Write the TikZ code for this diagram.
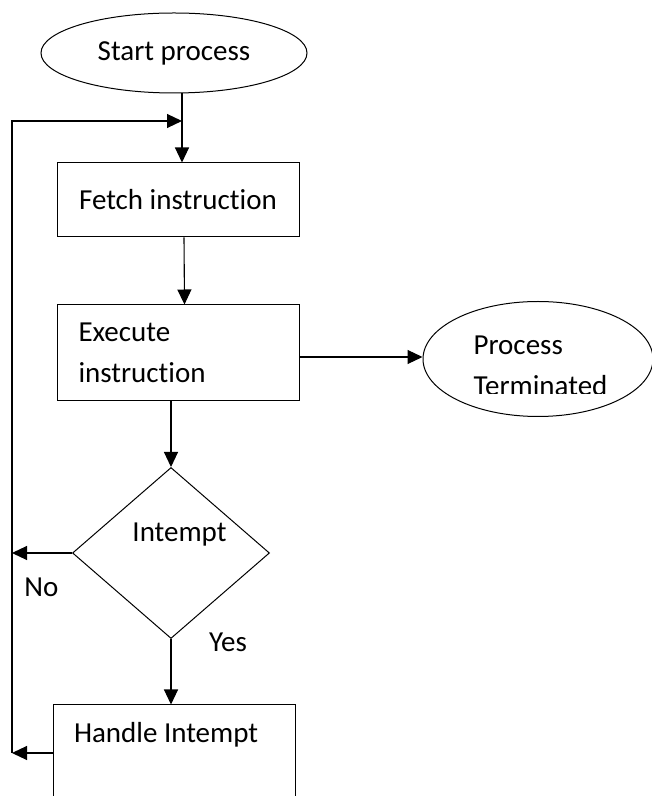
\documentclass[tikz,border=0pt]{standalone}
\usepackage{fontspec}
\setmainfont{Carlito}[Ligatures=CommonOff]
\usetikzlibrary{shapes.geometric,arrows.meta,positioning}
\begin{document}
\begin{tikzpicture}[x=1pt,y=1pt,line width=1.1pt,>={Triangle[length=15pt,width=14pt]},
	every node/.style={font=\fontsize{29}{41}\selectfont},
	term/.style={draw,ellipse,line width=1pt,inner sep=0pt},
	box/.style={draw,rectangle,line width=1pt,minimum width=242pt,inner xsep=21pt,inner ysep=0pt,text width=200pt},
	choice/.style={draw,diamond,line width=1pt,inner sep=0pt}]
	\useasboundingbox (0,0) rectangle (652,796);
	\node[term,minimum width=266pt,minimum height=80pt] (start) at (174,743) {Start process};
	\node[box,minimum height=74pt,text width=220pt,inner xsep=11pt,align=flush center] (fetch) at (178,596) {Fetch instruction};
	\node[box,minimum height=96pt,align=flush left] (exec) at (178.5,443) {Execute\\instruction};
	\node[term,minimum width=230pt,minimum height=115pt] (proc) at (538,437) {};
	\begin{scope}
	\clip (420,402.5) rectangle (660,500);
	\node[anchor=base west,align=left,inner sep=0pt] (proctxt) at (473,400) {Process\\Terminated};
	\end{scope}
	\node[choice,minimum width=197pt,minimum height=171pt] (intr) at (171,243) {};
	\node[anchor=base] (intrtxt) at (179.5,254) {Intempt};
	\node[box,minimum height=96pt,align=flush left] (handle) at (174,43) {Handle Intempt\\\mbox{}};
	\node[anchor=base] (no) at (41.5,199) {No};
	\node[anchor=base] (yes) at (228,144) {Yes};
	\coordinate (join) at (182,675);
	\coordinate (loopTop) at (12,675);
	\coordinate (loopBot) at (12,43);
	\draw (start.south -| join) -- (join);
	\draw[->] (join) -- (fetch.north -| join);
	\draw[->] (loopBot) -- (loopTop) -- (join);
	\draw[->] ([xshift=6pt]fetch.south) -- ([xshift=6pt]exec.north);
	\draw[->] (exec.south -| intr.north) -- (intr.north);
	\draw[->] ([yshift=-4pt]exec.east) -- ([yshift=-4pt]exec.east -| proc.west);
	\draw[->] (intr.west) -- (intr.west -| loopBot);
	\draw[->] (intr.south) -- (handle.north -| intr.south);
	\draw[->] (handle.west) -- (loopBot);
\end{tikzpicture}
\end{document}
